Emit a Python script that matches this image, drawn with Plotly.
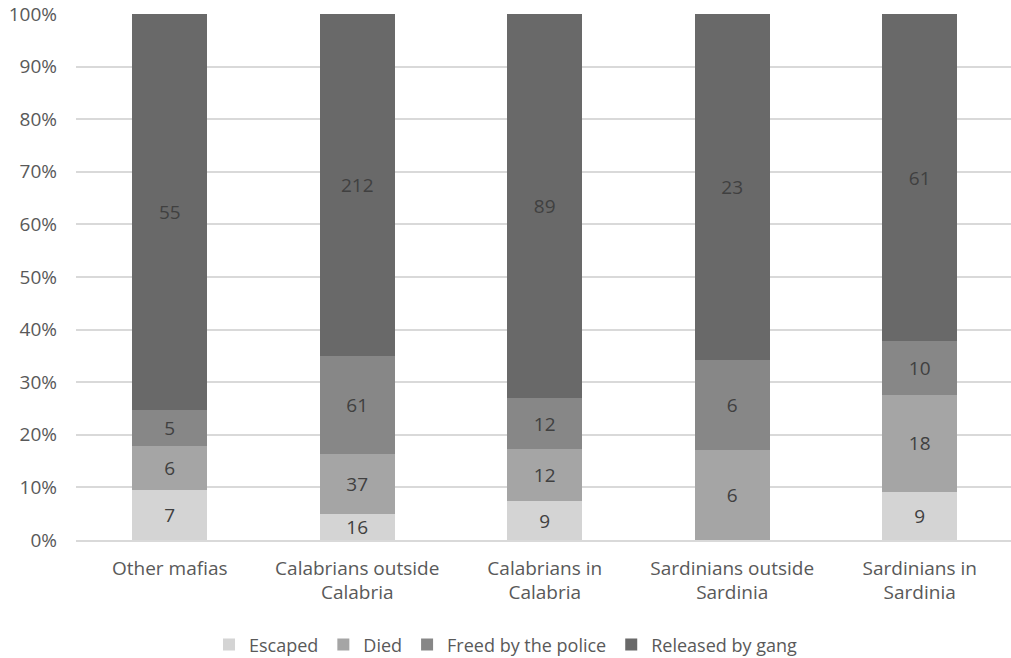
import plotly.graph_objects as go

categories = ["Other mafias", "Calabrians outside<br>Calabria", "Calabrians in<br>Calabria",
              "Sardinians outside<br>Sardinia", "Sardinians in<br>Sardinia"]
escaped = [7, 16, 9, 0, 9]
died = [6, 37, 12, 6, 18]
freed_police = [5, 61, 12, 6, 10]
released_gang = [55, 212, 89, 23, 61]

series = [
    ("Escaped", escaped, "#d4d4d4"),
    ("Died", died, "#a5a5a5"),
    ("Freed by the police", freed_police, "#878787"),
    ("Released by gang", released_gang, "#696969"),
]

fig = go.Figure()
for name, vals, color in series:
    fig.add_trace(go.Bar(
        x=categories, y=vals, name=name, marker=dict(color=color, line=dict(width=0)),
        text=[str(v) if v else "" for v in vals], textposition="inside",
        insidetextanchor="middle", textangle=0,
        textfont=dict(color="#404040", size=19, family="Open Sans"),
        constraintext="none", hoverinfo="skip",
    ))

fig.update_layout(
    barmode="stack", barnorm="percent", bargap=0.6,
    width=1011, height=658,
    margin=dict(l=76, r=0, t=14, b=118, autoexpand=False),
    plot_bgcolor="white", paper_bgcolor="white",
    font=dict(family="Open Sans", color="#595959", size=19),
    legend=dict(orientation="h", x=0.5, xanchor="center", xref="container",
                y=0.02, yanchor="middle", yref="container",
                font=dict(size=18, color="#595959"), traceorder="normal"),
    showlegend=True,
)
fig.update_yaxes(range=[0, 100], dtick=10, ticksuffix="%", showgrid=True,
                 gridcolor="#d9d9d9", gridwidth=1.5, zeroline=False,
                 tickfont=dict(size=19, color="#595959"), ticks="", ticklen=0,
                 ticklabelstandoff=18, ticklabeloverflow="allow", automargin=False)
fig.update_xaxes(range=[-0.5, 4.487], showline=True, linecolor="#d9d9d9", linewidth=1.5,
                 tickfont=dict(size=19, color="#595959"), ticklabelstandoff=10,
                 automargin=False)

fig.write_html("out.html", config={"displayModeBar": False},
               post_script="document.body.style.margin='0';")
